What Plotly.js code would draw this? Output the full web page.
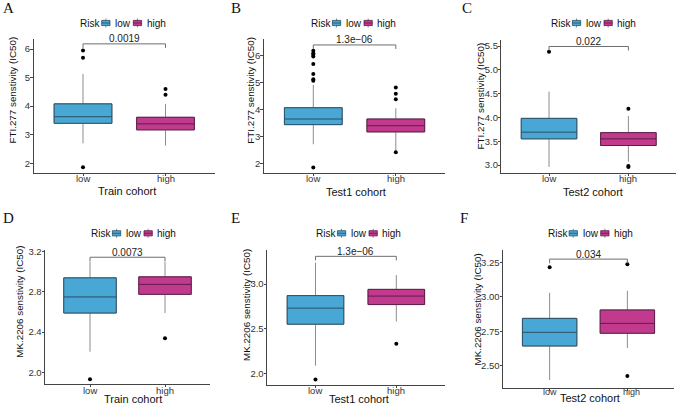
<!DOCTYPE html>
<html><head><meta charset="utf-8">
<script src="https://cdn.plot.ly/plotly-3.0.1.min.js"></script>
<style>html,body{margin:0;padding:0;background:#fff}#chart{width:677px;height:404px}</style>
</head><body><div id="chart"></div>
<script>
// ---------------- data ----------------
const groups = ['low', 'high'];
const panelLetters = ['A', 'B', 'C', 'D', 'E', 'F'];
const cohortTitles = ['Train cohort', 'Test1 cohort', 'Test2 cohort', 'Train cohort', 'Test1 cohort', 'Test2 cohort'];
const yTitles = ['FTI.277 senstivity (IC50)', 'FTI.277 senstivity (IC50)', 'FTI.277 senstivity (IC50)',
                 'MK.2206 senstivity (IC50)', 'MK.2206 senstivity (IC50)', 'MK.2206 senstivity (IC50)'];
const pLabels = ['0.0019', '1.3e\u221206', '0.022', '0.0073', '1.3e\u221206', '0.034'];

const lowQ1 = [3.40, 3.44, 3.55, 2.59, 2.55, 2.643];
const lowMedian = [3.63, 3.65, 3.69, 2.75, 2.73, 2.742];
const lowQ3 = [4.08, 4.07, 3.98, 2.94, 2.87, 2.843];
const lowMin = [2.70, 2.71, 2.96, 2.205, 2.085, 2.396];
const lowMax = [5.13, 4.92, 4.54, 3.10, 3.24, 3.029];
const lowOutliers = [[5.95, 5.69, 1.86], [6.19, 6.10, 6.04, 5.98, 5.70, 5.33, 5.13, 5.08, 1.84], [5.38], [1.93], [1.93], [3.213]];

const highQ1 = [3.17, 3.17, 3.41, 2.776, 2.77, 2.735];
const highMedian = [3.38, 3.40, 3.55, 2.875, 2.865, 2.807];
const highQ3 = [3.61, 3.65, 3.68, 2.95, 2.94, 2.904];
const highMin = [2.62, 2.47, 3.07, 2.59, 2.58, 2.628];
const highMax = [4.07, 4.05, 4.03, 3.10, 3.10, 3.043];
const highOutliers = [[4.60, 4.40], [4.82, 4.59, 4.39, 2.41], [4.18, 2.98, 2.96], [2.34], [2.33], [3.235, 2.425]];

const bracketY = [6.18, 6.41, 5.49, 3.145, 3.31, 3.273];

// ---------------- layout geometry (px) ----------------
const W = 677, H = 404;
const X = v => v / W, Y = v => 1 - v / H;
const geom = [ // left, right, top, bottom
  [33.5, 215, 39, 173.3], [263.8, 445.3, 39.3, 173.3], [501.4, 676, 40, 173.3],
  [45, 210, 250, 384.3], [267, 444.8, 250, 385], [503, 674, 250, 388.3]];
const yRanges = [[1.65, 6.35], [1.627, 6.62], [2.826, 5.626], [1.881, 3.217], [1.869, 3.381], [2.336, 3.339]];
const yDtick = [1, 1, 0.5, 0.4, 0.5, 0.25];
const yFmt = ['d', 'd', '.1f', '.1f', '.1f', '.2f'];
const legendStart = [[79.3, 23], [310, 23], [550, 23], [90, 233.3], [315, 233.3], [546.7, 233.3]];
const letterPos = [[2, 7.5], [230, 7.5], [461, 8], [2, 218], [230, 218], [459, 218]];
const yTitlePos = [[12, 90.5], [251, 90.7], [479.5, 96], [20, 301.7], [246, 305], [476.5, 310]];
const xTitlePos = [[126.7, 191], [356, 191.7], [592.5, 191.7], [133.3, 399.3], [359, 399.3], [589.5, 397.5]];
const xTickY = [179, 179, 179, 390, 390, 392];
const xTickShift = [[0, 0], [0, 0], [0, 0], [0, 0], [0, 0], [0, 4]];

const FONT = 'Liberation Sans, Arial, sans-serif';
const fills = {low: '#48A7D4', high: '#C13A8D'};
const outlines = {low: '#2B4F63', high: '#5C1E47'};
const whiskerColor = '#8C8C8C';

const stats = {
  low: {q1: lowQ1, med: lowMedian, q3: lowQ3, min: lowMin, max: lowMax, out: lowOutliers},
  high: {q1: highQ1, med: highMedian, q3: highQ3, min: highMin, max: highMax, out: highOutliers}
};

const traces = [];
const layout = {
  width: W, height: H, margin: {l: 0, r: 0, t: 0, b: 0},
  paper_bgcolor: '#fff', plot_bgcolor: 'rgba(0,0,0,0)',
  showlegend: false, font: {family: FONT, color: '#222'},
  annotations: [], shapes: []
};

for (let i = 0; i < 6; i++) {
  const s = i === 0 ? '' : String(i + 1);
  const xa = 'x' + s, ya = 'y' + s;
  const [l, r, t, b] = geom[i];

  layout['xaxis' + s] = {
    domain: [X(l), X(r)], anchor: ya, type: 'category',
    categoryorder: 'array', categoryarray: groups, range: [-0.6, 1.6],
    showline: true, linecolor: '#444', linewidth: 1, ticks: 'outside', ticklen: 2,
    tickcolor: '#444', showticklabels: false, showgrid: false, zeroline: false, fixedrange: true
  };
  layout['yaxis' + s] = {
    domain: [Y(b), Y(t)], anchor: xa, range: yRanges[i], tick0: 0, dtick: yDtick[i],
    tickformat: yFmt[i], showline: true, linecolor: '#444', linewidth: 1, ticks: 'outside',
    ticklen: 2.5, tickcolor: '#444', ticklabelstandoff: -2,
    tickfont: {size: 9.5, color: '#333', family: FONT},
    showgrid: false, zeroline: false, fixedrange: true
  };

  groups.forEach(g => {
    const st = stats[g];
    // whiskers (grey)
    traces.push({
      type: 'box', x: [g], q1: [st.q1[i]], median: [st.med[i]], q3: [st.q3[i]],
      lowerfence: [st.min[i]], upperfence: [st.max[i]], xaxis: xa, yaxis: ya,
      width: 0.7, whiskerwidth: 0, boxpoints: false, fillcolor: 'rgba(0,0,0,0)',
      line: {color: whiskerColor, width: 1}, hoverinfo: 'skip', showlegend: false
    });
    // box body
    traces.push({
      type: 'box', x: [g], q1: [st.q1[i]], median: [st.med[i]], q3: [st.q3[i]],
      lowerfence: [st.q1[i]], upperfence: [st.q3[i]], xaxis: xa, yaxis: ya,
      width: 0.7, whiskerwidth: 0, boxpoints: false, fillcolor: fills[g],
      line: {color: outlines[g], width: 1}, hoverinfo: 'skip', showlegend: false
    });
    // outliers
    traces.push({
      type: 'scatter', mode: 'markers', x: st.out[i].map(() => g), y: st.out[i],
      xaxis: xa, yaxis: ya, marker: {color: '#000', size: 4}, hoverinfo: 'skip', showlegend: false
    });
  });

  // comparison bracket
  const tip = 0.03 * (yRanges[i][1] - yRanges[i][0]);
  traces.push({
    type: 'scatter', mode: 'lines', x: [groups[0], groups[0], groups[1], groups[1]],
    y: [bracketY[i] - tip, bracketY[i], bracketY[i], bracketY[i] - tip],
    xaxis: xa, yaxis: ya, line: {color: '#6E6E6E', width: 1}, hoverinfo: 'skip', showlegend: false
  });
  layout.annotations.push({
    xref: xa, yref: ya, x: 0.5, y: bracketY[i], yshift: 5, text: pLabels[i],
    showarrow: false, xanchor: 'center', yanchor: 'middle', borderpad: 0,
    font: {size: 10, color: '#222', family: FONT}
  });

  // x tick labels
  groups.forEach((g, k) => layout.annotations.push({
    xref: xa, yref: 'paper', x: g, y: Y(xTickY[i]), xshift: xTickShift[i][k], text: g, showarrow: false,
    xanchor: 'center', yanchor: 'middle', borderpad: 0,
    font: {size: i === 5 ? 9 : 9.5, color: '#333', family: FONT}
  }));
  // axis titles
  layout.annotations.push({
    xref: 'paper', yref: 'paper', x: X(xTitlePos[i][0]), y: Y(xTitlePos[i][1]), text: cohortTitles[i],
    showarrow: false, xanchor: 'center', yanchor: 'middle', borderpad: 0,
    font: {size: 11, color: '#111', family: FONT}
  });
  layout.annotations.push({
    xref: 'paper', yref: 'paper', x: X(yTitlePos[i][0]), y: Y(yTitlePos[i][1]), text: yTitles[i],
    textangle: -90, showarrow: false, xanchor: 'center', yanchor: 'middle', borderpad: 0,
    font: {size: 9.8, color: '#111', family: FONT}
  });
  // panel letter
  layout.annotations.push({
    xref: 'paper', yref: 'paper', x: X(letterPos[i][0]), y: Y(letterPos[i][1]), text: panelLetters[i],
    showarrow: false, xanchor: 'left', yanchor: 'middle', borderpad: 0,
    font: {size: 15, color: '#111', family: 'Liberation Serif, Times New Roman, serif'}
  });

  // legend: "Risk" + two boxplot keys
  const [sx, cy] = legendStart[i];
  layout.annotations.push({
    xref: 'paper', yref: 'paper', x: X(sx), y: Y(cy), text: 'Risk', showarrow: false,
    xanchor: 'left', yanchor: 'middle', borderpad: 0, font: {size: 10, color: '#111', family: FONT}
  });
  const keyOffsets = [[22.4, 35], [54, 66.4]];
  groups.forEach((g, k) => {
    const kx0 = sx + keyOffsets[k][0], kx1 = kx0 + 8.3, kxm = (kx0 + kx1) / 2;
    layout.shapes.push({type: 'line', xref: 'paper', yref: 'paper', x0: X(kxm), x1: X(kxm),
      y0: Y(cy - 4.5), y1: Y(cy + 4.5), line: {color: whiskerColor, width: 1}});
    layout.shapes.push({type: 'rect', xref: 'paper', yref: 'paper', x0: X(kx0), x1: X(kx1),
      y0: Y(cy - 2.6), y1: Y(cy + 2.6), fillcolor: fills[g], line: {color: outlines[g], width: 0.8}});
    layout.shapes.push({type: 'line', xref: 'paper', yref: 'paper', x0: X(kx0), x1: X(kx1),
      y0: Y(cy), y1: Y(cy), line: {color: outlines[g], width: 0.8}});
    layout.annotations.push({
      xref: 'paper', yref: 'paper', x: X(sx + keyOffsets[k][1]), y: Y(cy), text: g, showarrow: false,
      xanchor: 'left', yanchor: 'middle', borderpad: 0, font: {size: 10, color: '#111', family: FONT}
    });
  });
}

Plotly.newPlot('chart', traces, layout, {staticPlot: true, displayModeBar: false});
</script>
</body></html>
